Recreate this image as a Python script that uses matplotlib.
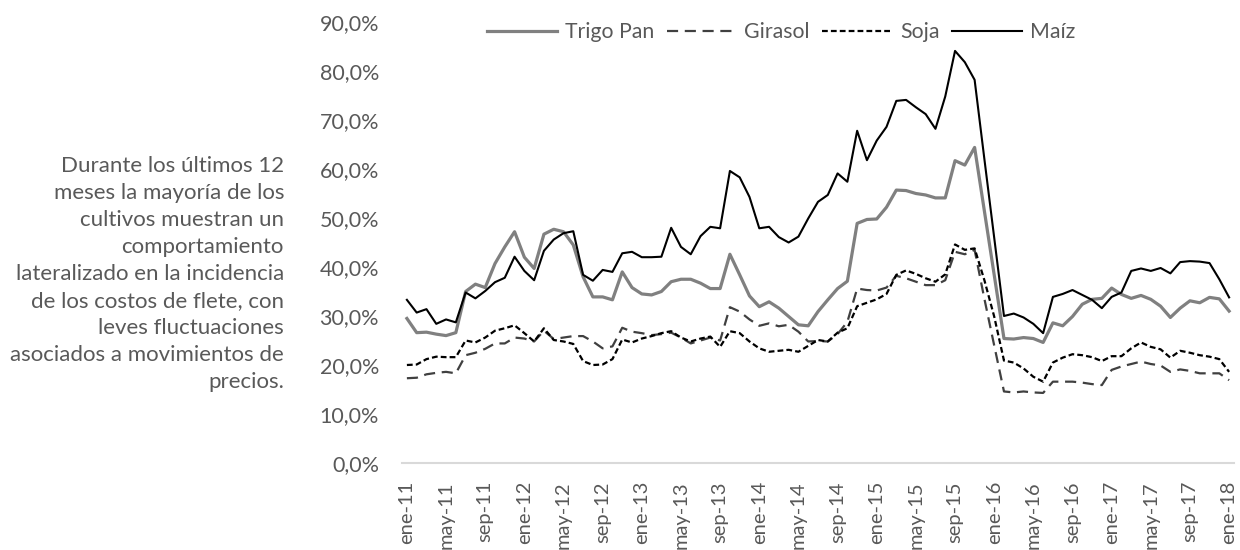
import matplotlib
matplotlib.use("Agg")
import matplotlib.pyplot as plt
from matplotlib.ticker import FuncFormatter

plt.rcParams['font.family'] = ['Lato', 'DejaVu Sans']

# --- data (share of freight cost, %) ---
trigo_pan = [29.5, 26.6, 26.7, 26.3, 26.0, 26.6, 35.0, 36.5, 35.8, 40.7, 44.1, 47.2,
             42.0, 39.7, 46.7, 47.7, 47.2, 44.5, 38.0, 33.9, 33.9, 33.3, 39.0, 35.8,
             34.5, 34.3, 35.0, 37.0, 37.5, 37.5, 36.7, 35.6, 35.6, 42.6, 38.4, 34.1,
             31.9, 32.9, 31.6, 29.9, 28.2, 28.0, 30.9, 33.3, 35.6, 37.1, 48.9, 49.7,
             49.8, 52.2, 55.7, 55.6, 55.0, 54.7, 54.1, 54.1, 61.7, 60.8, 64.4, 51.4,
             38.4, 25.4, 25.3, 25.6, 25.4, 24.6, 28.6, 28.0, 29.9, 32.4, 33.4, 33.6,
             35.7, 34.4, 33.6, 34.2, 33.4, 32.0, 29.7, 31.6, 33.1, 32.7, 33.8, 33.5,
             31.0]
girasol = [17.3, 17.4, 18.1, 18.4, 18.6, 18.3, 22.0, 22.5, 23.3, 24.4, 24.4, 25.6,
           25.4, 24.8, 27.0, 25.3, 25.6, 25.9, 25.9, 24.8, 23.4, 23.8, 27.6, 26.8,
           26.5, 26.1, 26.3, 26.6, 25.6, 24.4, 25.0, 25.6, 25.0, 31.8, 30.9, 29.3,
           28.0, 28.5, 27.9, 28.2, 26.8, 24.8, 24.9, 24.8, 26.3, 28.8, 35.6, 35.3,
           35.2, 35.8, 38.2, 37.7, 37.0, 36.3, 36.3, 37.3, 43.1, 42.6, 43.5, 33.5,
           24.0, 14.6, 14.4, 14.6, 14.4, 14.3, 16.6, 16.6, 16.6, 16.4, 16.1, 15.9,
           19.0, 19.7, 20.2, 20.7, 20.2, 19.9, 18.6, 19.1, 18.8, 18.3, 18.3, 18.3,
           16.9]
soja = [20.0, 20.1, 21.2, 21.7, 21.6, 21.6, 25.0, 24.6, 25.6, 27.0, 27.5, 28.1,
        26.5, 24.8, 27.5, 25.1, 24.8, 24.3, 20.8, 20.0, 20.1, 21.2, 25.2, 24.6,
        25.4, 25.9, 26.5, 26.9, 25.6, 24.8, 25.4, 25.8, 23.7, 26.9, 26.5, 24.8,
        23.4, 22.7, 22.9, 23.1, 22.7, 23.9, 25.1, 24.8, 26.6, 27.5, 32.0, 32.7,
        33.4, 34.5, 38.4, 39.3, 38.6, 37.7, 37.0, 38.5, 44.6, 43.5, 43.8, 37.3,
        29.9, 20.9, 20.5, 19.3, 17.6, 16.6, 20.5, 21.5, 22.2, 22.0, 21.6, 20.8,
        21.8, 21.8, 23.4, 24.6, 23.7, 23.2, 21.5, 22.9, 22.5, 22.0, 21.7, 21.2,
        18.6]
maiz = [33.3, 30.7, 31.4, 28.4, 29.3, 28.7, 34.8, 33.6, 35.1, 36.9, 37.8, 42.1,
        39.2, 37.3, 43.3, 45.6, 46.9, 47.3, 38.4, 37.2, 39.4, 39.0, 42.8, 43.1,
        42.0, 42.0, 42.1, 48.0, 44.1, 42.6, 46.3, 48.2, 47.9, 59.6, 58.3, 54.3,
        47.9, 48.2, 46.1, 45.0, 46.2, 49.9, 53.3, 54.7, 59.1, 57.4, 67.8, 61.8,
        65.8, 68.6, 73.9, 74.1, 72.6, 71.2, 68.2, 74.8, 84.1, 81.8, 78.2, 62.0,
        46.0, 30.0, 30.5, 29.7, 28.4, 26.5, 33.9, 34.5, 35.3, 34.3, 33.3, 31.6,
        33.9, 34.8, 39.2, 39.7, 39.2, 39.8, 38.7, 41.0, 41.2, 41.1, 40.8, 37.5,
        33.8]

tick_labels = ["ene-11", "may-11", "sep-11", "ene-12", "may-12", "sep-12",
               "ene-13", "may-13", "sep-13", "ene-14", "may-14", "sep-14",
               "ene-15", "may-15", "sep-15", "ene-16", "may-16", "sep-16",
               "ene-17", "may-17", "sep-17", "ene-18"]

note = ("Durante los últimos 12\nmeses la mayoría de los\ncultivos muestran un\n"
        "comportamiento\nlateralizado en la incidencia\nde los costos de flete, con\n"
        "leves fluctuaciones\nasociados a movimientos de\nprecios.")

GREY_TXT = "#595959"

fig = plt.figure(figsize=(12.4, 5.5), dpi=100)
ax = fig.add_axes([402 / 1240, 1 - 463 / 550, (1234 - 402) / 1240, (463 - 22) / 550])

x = list(range(len(maiz)))
ax.plot(x, trigo_pan, color="#808080", lw=2.3, label="Trigo Pan")
ax.plot(x, girasol, color="#404040", lw=1.6, dashes=(5, 3), label="Girasol")
ax.plot(x, soja, color="black", lw=1.6, dashes=(2.6, 1.4), label="Soja")
ax.plot(x, maiz, color="black", lw=1.5, label="Maíz")

ax.set_xlim(-0.5, len(maiz) - 0.5)
ax.set_ylim(0, 90)
ax.set_yticks(range(0, 91, 10))
ax.yaxis.set_major_formatter(FuncFormatter(lambda v, p: f"{v:.1f}%".replace(".", ",")))
ax.set_xticks(range(0, len(maiz), 4))
ax.set_xticklabels(tick_labels, rotation=90)

for s in ["top", "right", "left"]:
    ax.spines[s].set_visible(False)
ax.spines["bottom"].set_color("#d9d9d9")
ax.spines["bottom"].set_linewidth(1.5)
ax.tick_params(axis="both", length=0, colors=GREY_TXT)
ax.tick_params(axis="y", pad=16.5, labelsize=15.5)
ax.tick_params(axis="x", pad=13, labelsize=14.5)

fig.legend(loc="center left", bbox_to_anchor=(487 / 1240, 1 - 32 / 550), ncol=4,
           frameon=False, fontsize=15.3, labelcolor=GREY_TXT, handlelength=3.3,
           handletextpad=0.35, columnspacing=0.6, borderpad=0, borderaxespad=0)

fig.text(284 / 1240, 1 - 274 / 550, note, ha="right", va="center", ma="right",
         fontsize=16, color=GREY_TXT, linespacing=1.44)

fig.savefig("out.png", dpi=100)
